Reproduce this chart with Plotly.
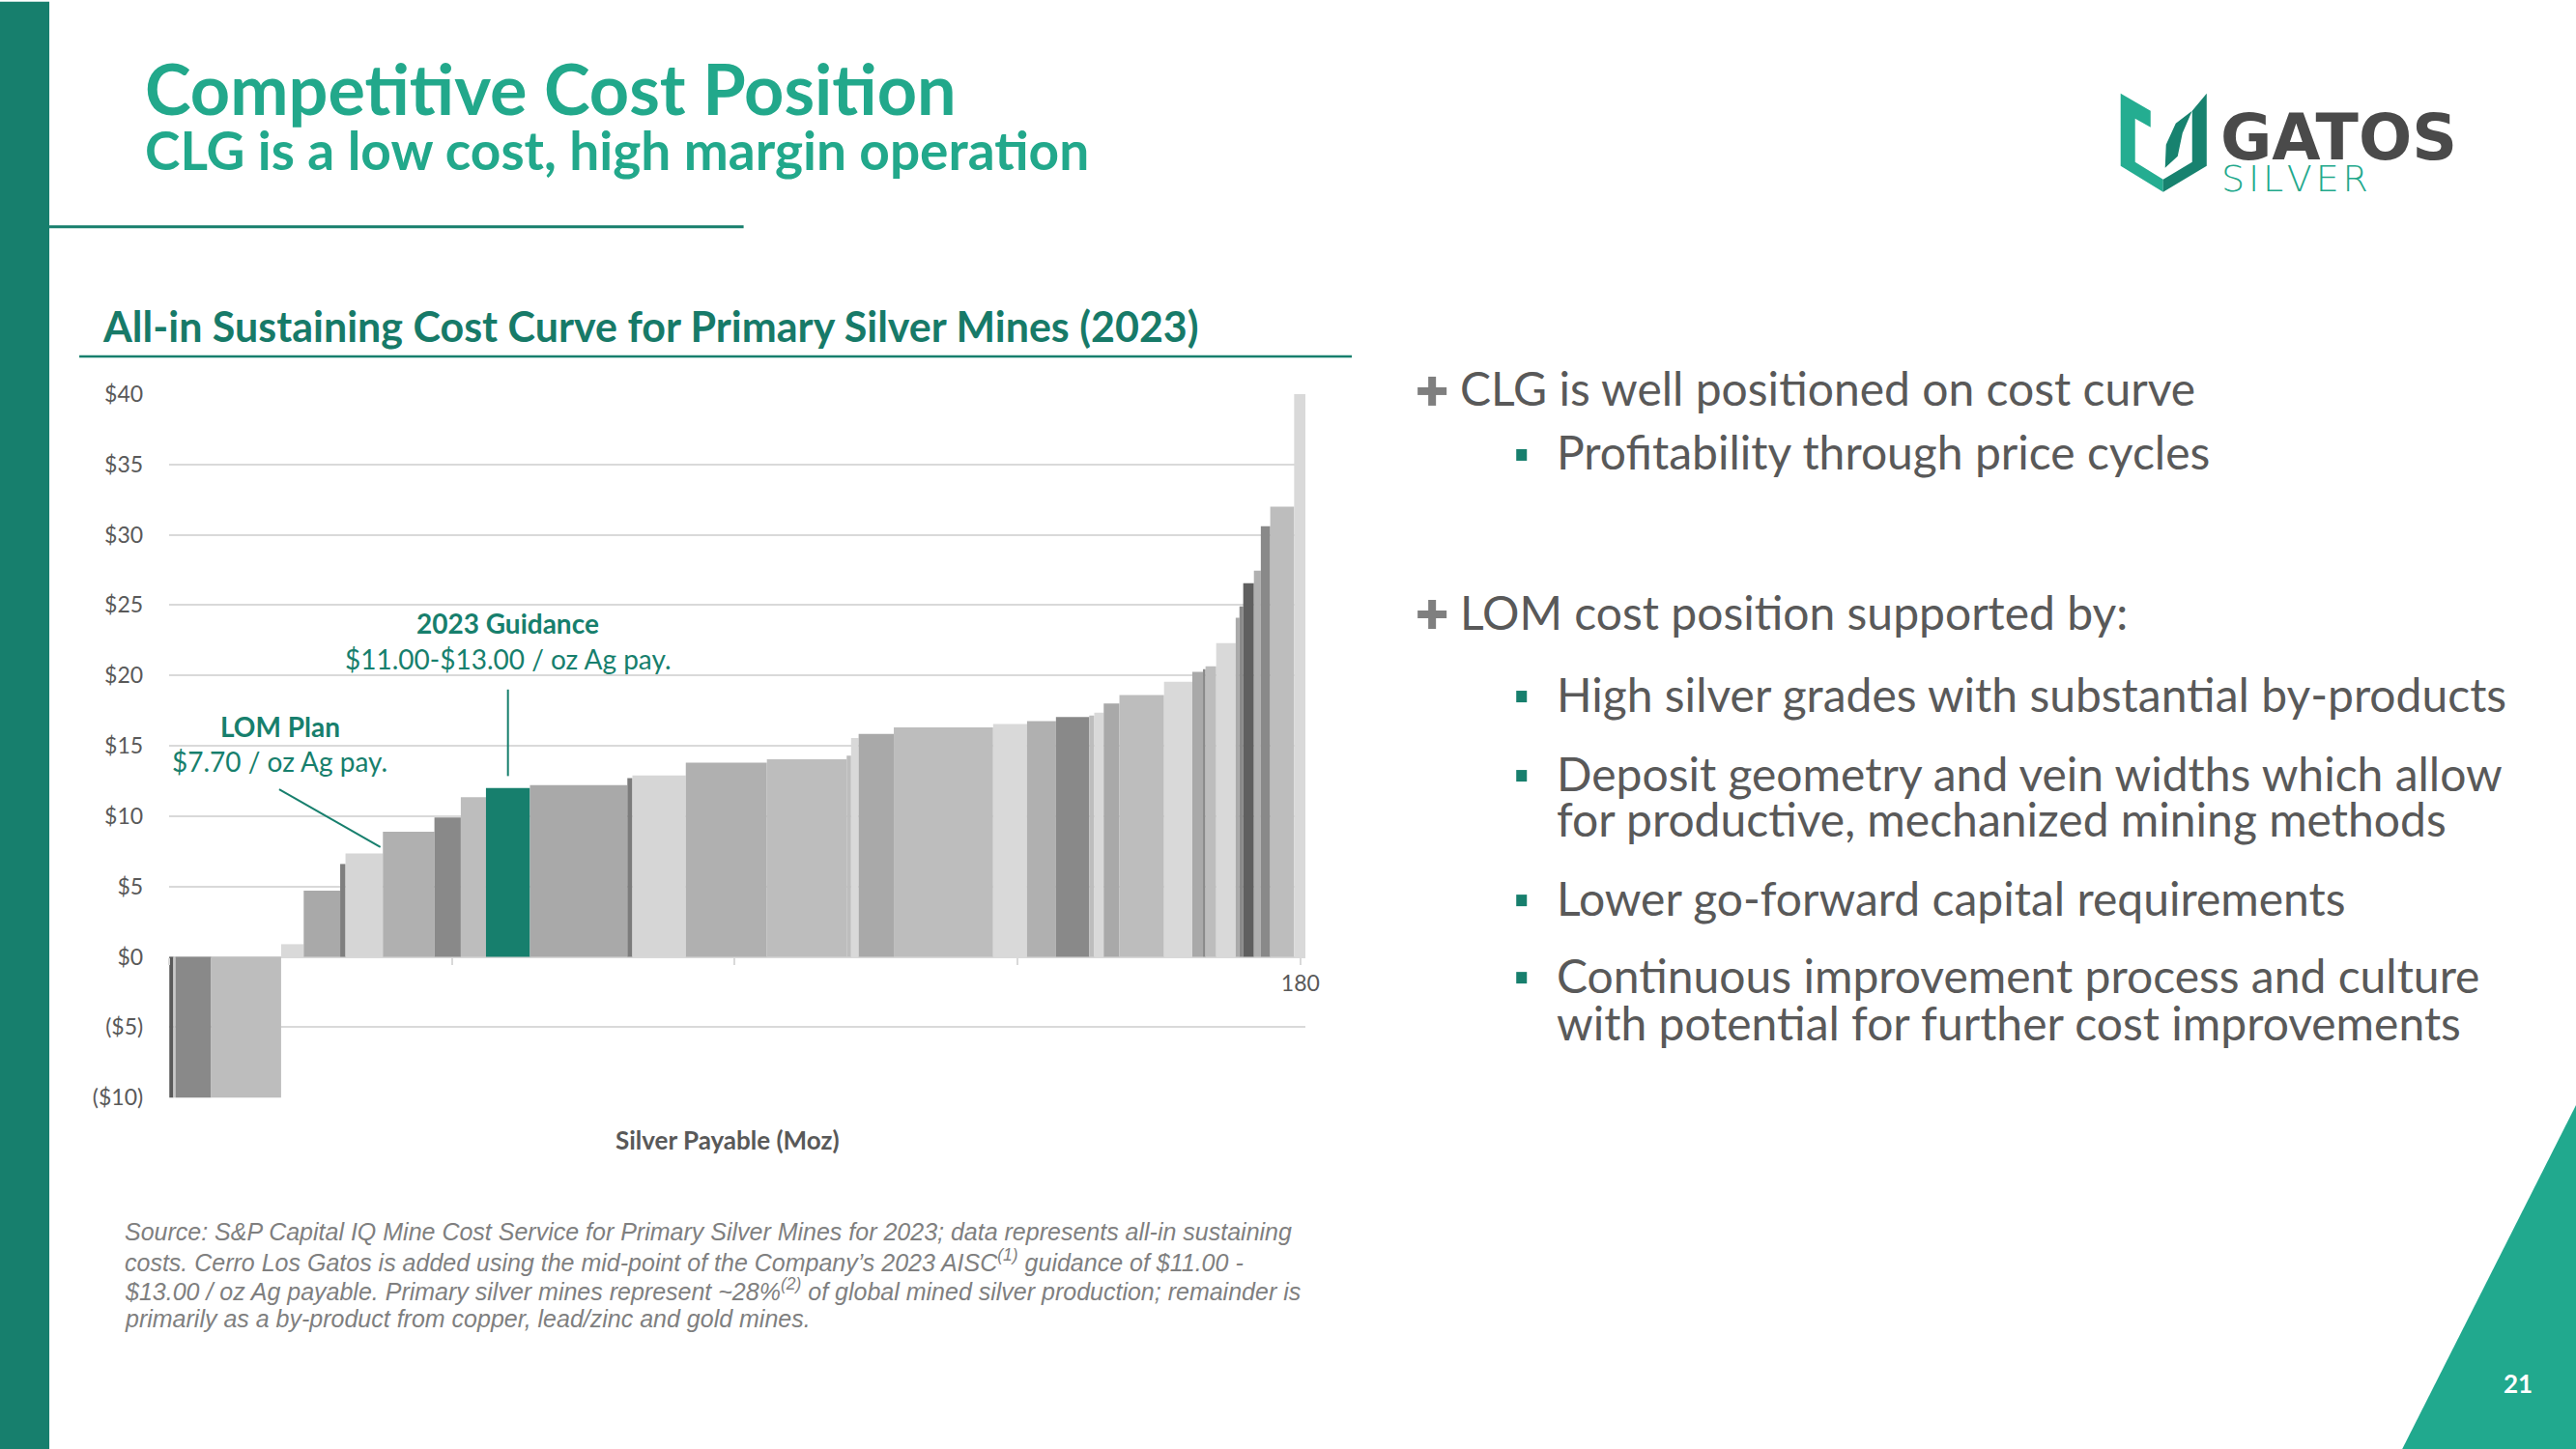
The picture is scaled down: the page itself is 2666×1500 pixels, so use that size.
import numpy as np
import plotly.graph_objects as go

W, H = 2666, 1500

# ---------------- data ----------------
# silver payable per mine (Moz) in cost-curve order
payable_moz = [0.66, 0.34, 5.67, 11.13, 3.6, 5.8, 0.85, 5.95, 8.2, 4.2,
               4.0, 7.0, 15.5, 0.8, 8.5, 12.9, 12.7, 0.7, 1.2, 5.6,
               15.8, 5.4, 4.6, 5.3, 0.8, 1.5, 2.5, 7.1, 4.5, 1.7,
               0.4, 1.7, 3.1, 0.6, 0.6, 1.7, 1.1, 1.5, 3.8, 1.8]
# all-in sustaining cost ($/oz Ag)
aisc = [-10.2, -10.2, -10.2, -10.1, 0.9, 4.7, 6.6, 7.35, 8.9, 9.9,
        11.35, 12.0, 12.2, 12.7, 12.9, 13.8, 14.05, 14.3, 15.55, 15.85,
        16.3, 16.55, 16.75, 17.05, 17.15, 17.35, 18.0, 18.6, 19.55, 20.25,
        20.45, 20.65, 22.3, 24.1, 24.9, 26.55, 27.45, 30.6, 32.0, 45.0]
clg_index = 11
y_tick_vals = [-10, -5, 0, 5, 10, 15, 20, 25, 30, 35, 40]
y_tick_text = ["($10)", "($5)", "$0", "$5", "$10", "$15", "$20", "$25", "$30", "$35", "$40"]
x_tick_vals = [0, 45, 90, 135, 180]
x_tick_text = ["", "", "", "", "180"]

# ---------------- styles ----------------
TEAL = "#177f6d"
TEAL_L = "#22a88b"
GRAY_TXT = "#595959"
bar_colors = ["#5a5a5a", "#c8c8c8", "#898989", "#bdbdbd", "#d9d9d9", "#a9a9a9", "#7f7f7f", "#d6d6d6", "#b0b0b0", "#898989",
              "#bdbdbd", TEAL, "#a9a9a9", "#7c7c7c", "#d6d6d6", "#b0b0b0", "#bdbdbd", "#bdbdbd", "#d9d9d9", "#a9a9a9",
              "#bdbdbd", "#d9d9d9", "#b0b0b0", "#898989", "#bdbdbd", "#d9d9d9", "#a9a9a9", "#bdbdbd", "#d9d9d9", "#a9a9a9",
              "#898989", "#bdbdbd", "#d9d9d9", "#a9a9a9", "#898989", "#5f5f5f", "#b0b0b0", "#898989", "#bdbdbd", "#d9d9d9"]

starts = np.concatenate([[0.0], np.cumsum(payable_moz)[:-1]])

# layout positions below are given in slide pixels; small correction for the capture frame
SX, SY, OY = 0.9936, 0.981, 13.2

def px(x):
    return (x / SX) / W

def py(y):
    return 1 - ((y - OY) / SY) / H

fig = go.Figure()
fig.add_trace(go.Bar(
    x=starts, y=aisc, width=payable_moz, offset=0,
    marker=dict(color=bar_colors, line=dict(width=0)),
    showlegend=False, hoverinfo="skip"))

ydom = [py(1134), py(406)]
yr = [-10, 40]
x_axis_pos = ydom[0] + (0 - yr[0]) / (yr[1] - yr[0]) * (ydom[1] - ydom[0])

fig.update_layout(
    width=W, height=H, margin=dict(l=0, r=0, t=0, b=0), autosize=False,
    paper_bgcolor="white", plot_bgcolor="white", showlegend=False,
    font=dict(family="Lato", color=GRAY_TXT),
    xaxis=dict(domain=[px(175), px(1350)], range=[0, 180.8], anchor="free", position=x_axis_pos,
               tickvals=x_tick_vals, ticktext=x_tick_text, ticks="outside", ticklen=7, tickwidth=2,
               tickcolor="#d9d9d9", showgrid=False, zeroline=False, showline=False,
               tickfont=dict(family="Lato", size=23, color=GRAY_TXT), fixedrange=True),
    yaxis=dict(domain=ydom, range=yr, tickvals=y_tick_vals, ticktext=y_tick_text,
               gridcolor="#d9d9d9", gridwidth=2, zeroline=False, showline=False,
               tickfont=dict(family="Lato", size=23, color=GRAY_TXT), ticklabelstandoff=26,
               fixedrange=True),
)

shapes = []
annotations = []

def txt(x, y, text, size, color, xanchor="left", family="Lato", yanchor="middle", weight=None):
    f = dict(family=family, size=size, color=color)
    if weight:
        f["weight"] = weight
    annotations.append(dict(x=px(x), y=py(y), xref="paper", yref="paper", text=text, showarrow=False,
                            xanchor=xanchor, yanchor=yanchor, font=f, align="left"))

def rect(x0, y0, x1, y1, color):
    shapes.append(dict(type="rect", xref="paper", yref="paper", x0=px(x0), x1=px(x1), y0=py(y1), y1=py(y0),
                       fillcolor=color, line=dict(width=0), layer="above"))

def line(x0, y0, x1, y1, color, width):
    shapes.append(dict(type="line", xref="paper", yref="paper", x0=px(x0), x1=px(x1), y0=py(y0), y1=py(y1),
                       line=dict(color=color, width=width)))

def poly(points, color):
    d = "M " + " L ".join(f"{px(a):.5f},{py(b):.5f}" for a, b in points) + " Z"
    shapes.append(dict(type="path", xref="paper", yref="paper", path=d, fillcolor=color, line=dict(width=0)))

# left band and header
rect(0, 0, 51, 1500, TEAL)
line(51, 233, 769, 233, TEAL, 3)
txt(148, 89, "<b>Competitive Cost Position</b>", 72, TEAL_L)
txt(148, 153, "<b>CLG is a low cost, high margin operation</b>", 55, TEAL_L)

# chart title
txt(104, 336, "<b>All-in Sustaining Cost Curve for Primary Silver Mines (2023)</b>", 43, "#177a68")
line(82, 367, 1398, 367, TEAL, 2.5)

# chart annotations (data coordinates)
clg_mid = starts[clg_index] + payable_moz[clg_index] / 2
ann_font = dict(family="Lato", size=28, color=TEAL)
annotations.append(dict(x=clg_mid, y=23.7, xref="x", yref="y", text="<b>2023 Guidance</b>", showarrow=False,
                        font=ann_font, xanchor="center", yanchor="middle"))
annotations.append(dict(x=clg_mid, y=21.2, xref="x", yref="y", text="$11.00-$13.00 / oz Ag pay.", showarrow=False,
                        font=ann_font, xanchor="center", yanchor="middle"))
annotations.append(dict(x=17.6, y=16.35, xref="x", yref="y", text="<b>LOM Plan</b>", showarrow=False,
                        font=ann_font, xanchor="center", yanchor="middle"))
annotations.append(dict(x=17.6, y=13.9, xref="x", yref="y", text="$7.70 / oz Ag pay.", showarrow=False,
                        font=ann_font, xanchor="center", yanchor="middle"))
shapes.append(dict(type="line", xref="x", yref="y", x0=clg_mid, x1=clg_mid, y0=19.0, y1=12.85,
                   line=dict(color=TEAL, width=2)))
shapes.append(dict(type="line", xref="x", yref="y", x0=17.5, x1=33.6, y0=11.9, y1=7.8,
                   line=dict(color=TEAL, width=2)))

# axis title
txt(752, 1178, "<b>Silver Payable (Moz)</b>", 26, GRAY_TXT, xanchor="center")

# footnote
foot = [
    "Source: S&P Capital IQ Mine Cost Service for Primary Silver Mines for 2023; data represents all-in sustaining",
    "costs. Cerro Los Gatos is added using the mid-point of the Company\u2019s 2023 AISC<sup>(1)</sup> guidance of $11.00 -",
    "$13.00 / oz Ag payable. Primary silver mines represent ~28%<sup>(2)</sup> of global mined silver production; remainder is",
    "primarily as a by-product from copper, lead/zinc and gold mines.",
]
for t, yy in zip(foot, [1273, 1303, 1333, 1363]):
    txt(127, yy, "<i>" + t + "</i>", 25, "#7f7f7f", family="Liberation Sans")

# right-hand bullet text
BODY = 48
def plus(y):
    rect(1466, y - 4, 1496, y + 4, "#7f7f7f")
    rect(1477, y - 15, 1485, y + 15, "#7f7f7f")

def square(y):
    rect(1568, y - 6, 1579, y + 6, TEAL)

plus(403)
txt(1508, 400, "CLG is well positioned on cost curve", BODY, GRAY_TXT)
square(469)
txt(1608, 466, "Profitability through price cycles", BODY, GRAY_TXT)
plus(634)
txt(1508, 631, "LOM cost position supported by:", BODY, GRAY_TXT)
square(719)
txt(1608, 716, "High silver grades with substantial by-products", BODY, GRAY_TXT)
square(801)
txt(1608, 798, "Deposit geometry and vein widths which allow", BODY, GRAY_TXT)
txt(1608, 845, "for productive, mechanized mining methods", BODY, GRAY_TXT)
square(930)
txt(1608, 927, "Lower go-forward capital requirements", BODY, GRAY_TXT)
square(1010)
txt(1608, 1007, "Continuous improvement process and culture", BODY, GRAY_TXT)
txt(1608, 1056, "with potential for further cost improvements", BODY, GRAY_TXT)

# bottom-right triangle + page number
poly([(2473, 1520), (2676, 1118), (2676, 1520)], "#21a98e")
txt(2604, 1430, "<b>21</b>", 26, "white", xanchor="center")

# logo
poly([(2193, 95), (2224, 113), (2224, 130), (2208, 121), (2208, 166), (2237, 184), (2237, 197), (2193, 170)], "#24ad91")
poly([(2282, 95), (2282, 170), (2237, 197), (2237, 184), (2267, 166), (2267, 113)], "#17826f")
poly([(2267, 113), (2250, 126), (2240, 148), (2239, 172), (2252, 160), (2257, 136)], "#17826f")
txt(2294, 141, "<b>GATOS</b>", 65, "#4a4a4a", family="DejaVu Sans")
txt(2295, 183, "S\u200aI\u200aL\u200aV\u200aE\u200aR", 38, TEAL_L, family="DejaVu Sans", weight=200)

fig.update_layout(shapes=shapes, annotations=annotations)
fig.write_html(
    "out.html",
    config={"displayModeBar": False, "responsive": False},
    post_script=("var d=document.getElementById('{plot_id}');"
                 "d.style.position='fixed';d.style.left='0px';d.style.top='0px';"
                 "document.documentElement.style.margin='0';document.body.style.margin='0';"
                 "document.body.style.padding='0';document.documentElement.style.overflow='hidden';"
                 "document.body.style.overflow='hidden';"),
)
